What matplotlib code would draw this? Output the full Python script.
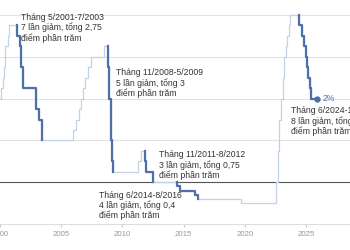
import pandas as pd
import matplotlib
matplotlib.use("Agg")
import matplotlib.pyplot as plt

plt.rcParams['font.family'] = ['Liberation Sans', 'DejaVu Sans']

# ECB deposit facility rate, date of each change and new rate (%)
change_dates = ["2000-01-01", "2000-02-04", "2000-03-17", "2000-04-28", "2000-06-09",
                "2000-09-01", "2000-10-06", "2001-05-11", "2001-08-31", "2001-09-18",
                "2001-11-09", "2002-12-06", "2003-03-07", "2003-06-06", "2005-12-06",
                "2006-03-08", "2006-06-15", "2006-08-09", "2006-10-11", "2006-12-13",
                "2007-03-14", "2007-06-13", "2008-07-09", "2008-11-12", "2008-12-10",
                "2009-01-21", "2009-03-11", "2009-04-08", "2011-04-13", "2011-07-13",
                "2011-11-09", "2011-12-14", "2012-07-11", "2014-06-11", "2014-09-10",
                "2015-12-09", "2016-03-16", "2019-09-18", "2022-07-27", "2022-09-14",
                "2022-11-02", "2022-12-21", "2023-02-08", "2023-03-22", "2023-05-10",
                "2023-06-21", "2023-08-02", "2023-09-20", "2024-06-12", "2024-09-18",
                "2024-10-23", "2024-12-18", "2025-02-05", "2025-03-12", "2025-04-23",
                "2025-06-11"]
rates = [2.00, 2.25, 2.50, 2.75, 3.25,
         3.50, 3.75, 3.50, 3.25, 2.75,
         2.25, 1.75, 1.50, 1.00, 1.25,
         1.50, 1.75, 2.00, 2.25, 2.50,
         2.75, 3.00, 3.25, 2.75, 2.00,
         1.00, 0.50, 0.25, 0.50, 0.75,
         0.50, 0.25, 0.00, -0.10, -0.20,
         -0.30, -0.40, -0.50, 0.00, 0.75,
         1.50, 2.00, 2.50, 3.00, 3.25,
         3.50, 3.75, 4.00, 3.75, 3.50,
         3.25, 3.00, 2.75, 2.50, 2.25,
         2.00]
last_date = "2025-11-20"

# cutting cycles: first cut, last cut
cycles = [("2001-05-11", "2003-06-06"),
          ("2008-11-12", "2009-04-08"),
          ("2011-11-09", "2012-07-11"),
          ("2014-06-11", "2016-03-16"),
          ("2024-06-12", "2025-06-11")]

labels = ["Tháng 5/2001-7/2003\n7 lần giảm, tổng 2,75\nđiểm phần trăm",
          "Tháng 11/2008-5/2009\n5 lần giảm, tổng 3\nđiểm phần trăm",
          "Tháng 11/2011-8/2012\n3 lần giảm, tổng 0,75\nđiểm phần trăm",
          "Tháng 6/2014-8/2016\n4 lần giảm, tổng 0,4\nđiểm phần trăm",
          "Tháng 6/2024-11/2025\n8 lần giảm, tổng 2\nđiểm phần trăm"]


def to_year(s):
    t = pd.to_datetime(s)
    return t.year + (t.dayofyear - 1) / 365.25


years = [to_year(d) for d in change_dates]
end_year = to_year(last_date)

light = "#c3d1e6"
dark = "#4e6fa8"

fig = plt.figure(figsize=(3.5, 2.5), dpi=100)
ax = fig.add_axes([0, 0.104, 1, 0.896])

for lvl in [1, 2, 3, 4]:
    ax.axhline(lvl, color="#e2e2e2", lw=0.8, zorder=0)
ax.axhline(0, color="#555555", lw=0.8, zorder=1)

ax.step(years + [end_year], rates + [rates[-1]], where="post", color=light, lw=0.9, zorder=2)

for i, (a, b) in enumerate(cycles):
    i0 = change_dates.index(a)
    i1 = change_dates.index(b)
    xs = [years[i0]] + years[i0:i1 + 1]
    ys = [rates[i0 - 1]] + rates[i0:i1 + 1]
    if i == len(cycles) - 1:
        xs = xs + [end_year]
        ys = ys + [rates[i1]]
    ax.step(xs, ys, where="post", color=dark, lw=1.6, zorder=3)

ax.plot(end_year, rates[-1], "o", color=dark, ms=3.5, zorder=4)
ax.text(end_year + 0.45, rates[-1], "2%", color=dark, fontsize=6.2, va="center")

txt = dict(fontsize=6.2, color="#333333", va="top", linespacing=1.1)
ax.text(2001.74, 4.05, labels[0], **txt)
ax.text(2009.48, 2.73, labels[1], **txt)
ax.text(2012.98, 0.76, labels[2], **txt)
ax.text(2008.09, -0.20, labels[3], **txt)
ax.text(2023.74, 1.82, labels[4], **txt)

ax.set_xlim(2000.1, 2028.6)
ax.set_ylim(-1, 4.36)
ax.set_yticks([])
ax.set_xticks([2000, 2005, 2010, 2015, 2020, 2025])
ax.tick_params(axis="x", length=2, color="#cccccc", labelsize=5.6, labelcolor="#999999", pad=3)
for s in ["left", "right", "top"]:
    ax.spines[s].set_visible(False)
ax.spines["bottom"].set_color("#dddddd")
ax.spines["bottom"].set_linewidth(0.8)

fig.savefig("out.png", dpi=100)
